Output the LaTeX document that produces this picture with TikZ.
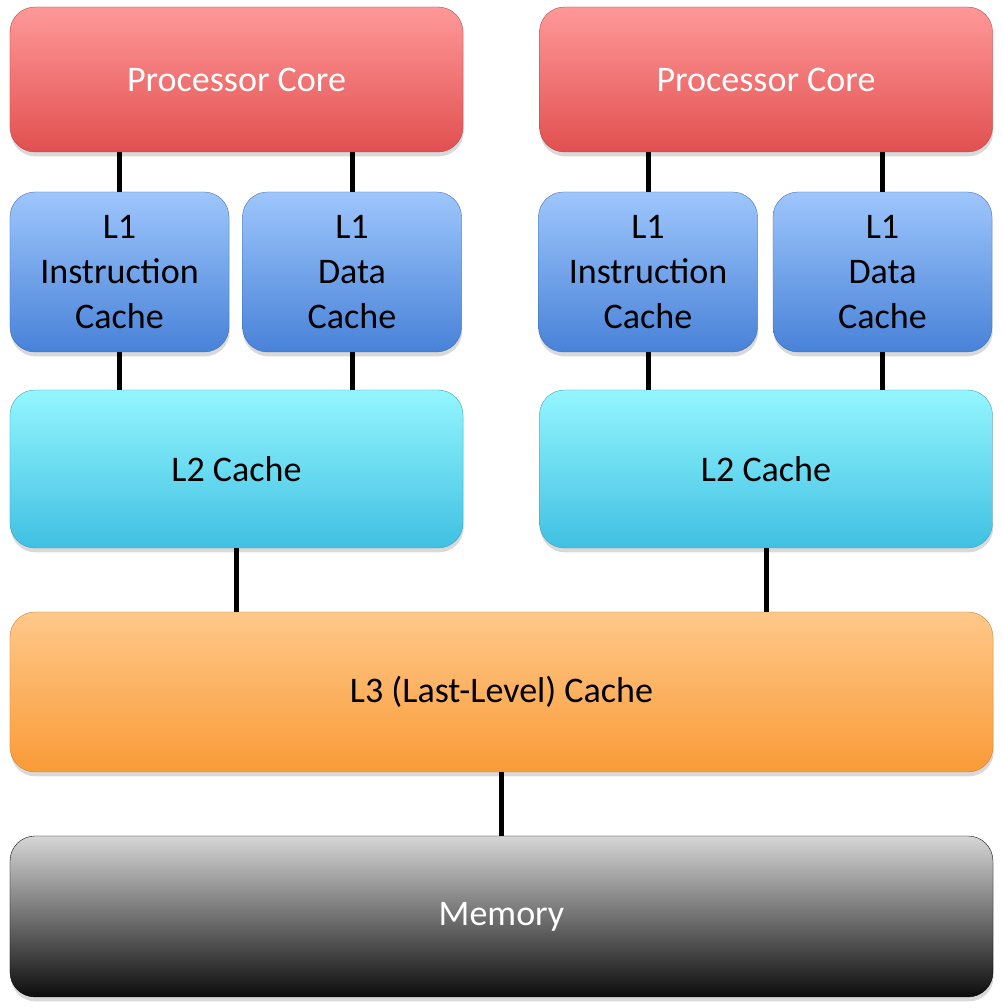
\documentclass[tikz,border=0pt]{standalone}
\usepackage{fontspec}
\setmainfont{Carlito}
\usetikzlibrary{positioning}
\usetikzlibrary{shadows}

\definecolor{coreTop}{RGB}{255,152,152}
\definecolor{coreBot}{RGB}{226,80,80}
\definecolor{lOneTop}{RGB}{158,198,252}
\definecolor{lOneBot}{RGB}{72,130,216}
\definecolor{lTwoTop}{RGB}{148,246,255}
\definecolor{lTwoBot}{RGB}{64,192,226}
\definecolor{lThreeTop}{RGB}{255,200,138}
\definecolor{lThreeBot}{RGB}{250,155,55}
\definecolor{memTop}{RGB}{214,214,214}
\definecolor{memBot}{RGB}{12,12,12}

\begin{document}
\begin{tikzpicture}[
  box/.style={rounded corners=0.5cm,very thin,inner sep=0pt,align=center,
    font=\fontsize{20.5}{25.6}\selectfont,
    drop shadow={shadow xshift=0.4pt,shadow yshift=-2.5pt,opacity=0.3}},
  corebox/.style={box,top color=coreTop,bottom color=coreBot,draw=coreBot!80!black,text=white,minimum width=9.06cm,minimum height=2.9cm},
  lonebox/.style={box,top color=lOneTop,bottom color=lOneBot,draw=lOneBot!80!black,minimum width=4.38cm,minimum height=3.2cm},
  ltwobox/.style={box,top color=lTwoTop,bottom color=lTwoBot,draw=lTwoBot!80!black,minimum width=9.06cm,minimum height=3.16cm},
  wide/.style={minimum width=19.66cm,minimum height=3.2cm},
  link/.style={line width=0.1cm}
]
\useasboundingbox (0,0) rectangle (20.04,20.16);

% cores
\node[corebox] (coreA) at (4.73,18.57) {Processor Core};
\node[corebox] (coreB) at (15.32,18.57) {Processor Core};

% L1
\node[lonebox] (loneIA) at (2.39,14.72) {L1\\Instruction\\Cache};
\node[lonebox] (loneDA) at (7.04,14.72) {L1\\Data\\Cache};
\node[lonebox] (loneIB) at (12.96,14.72) {L1\\Instruction\\Cache};
\node[lonebox] (loneDB) at (17.65,14.72) {L1\\Data\\Cache};

% L2
\node[ltwobox] (ltwoA) at (4.73,10.78) {L2 Cache};
\node[ltwobox] (ltwoB) at (15.32,10.78) {L2 Cache};

% L3 and memory
\node[box,wide,top color=lThreeTop,bottom color=lThreeBot,draw=lThreeBot!80!black] (lthree) at (10.03,6.32) {L3 (Last-Level) Cache};
\node[box,wide,minimum height=3.22cm,top color=memTop,bottom color=memBot,draw=black,text=white] (mem) at (10.03,1.83) {Memory};

\draw[link] (loneIA.north) -- (loneIA.north |- coreA.south);
\draw[link] (loneDA.north) -- (loneDA.north |- coreA.south);
\draw[link] (loneIB.north) -- (loneIB.north |- coreB.south);
\draw[link] (loneDB.north) -- (loneDB.north |- coreB.south);
\draw[link] (loneIA.south) -- (loneIA.south |- ltwoA.north);
\draw[link] (loneDA.south) -- (loneDA.south |- ltwoA.north);
\draw[link] (loneIB.south) -- (loneIB.south |- ltwoB.north);
\draw[link] (loneDB.south) -- (loneDB.south |- ltwoB.north);
\draw[link] (ltwoA.south) -- (ltwoA.south |- lthree.north);
\draw[link] (ltwoB.south) -- (ltwoB.south |- lthree.north);
\draw[link] (lthree.south) -- (mem.north);

\end{tikzpicture}
\end{document}
